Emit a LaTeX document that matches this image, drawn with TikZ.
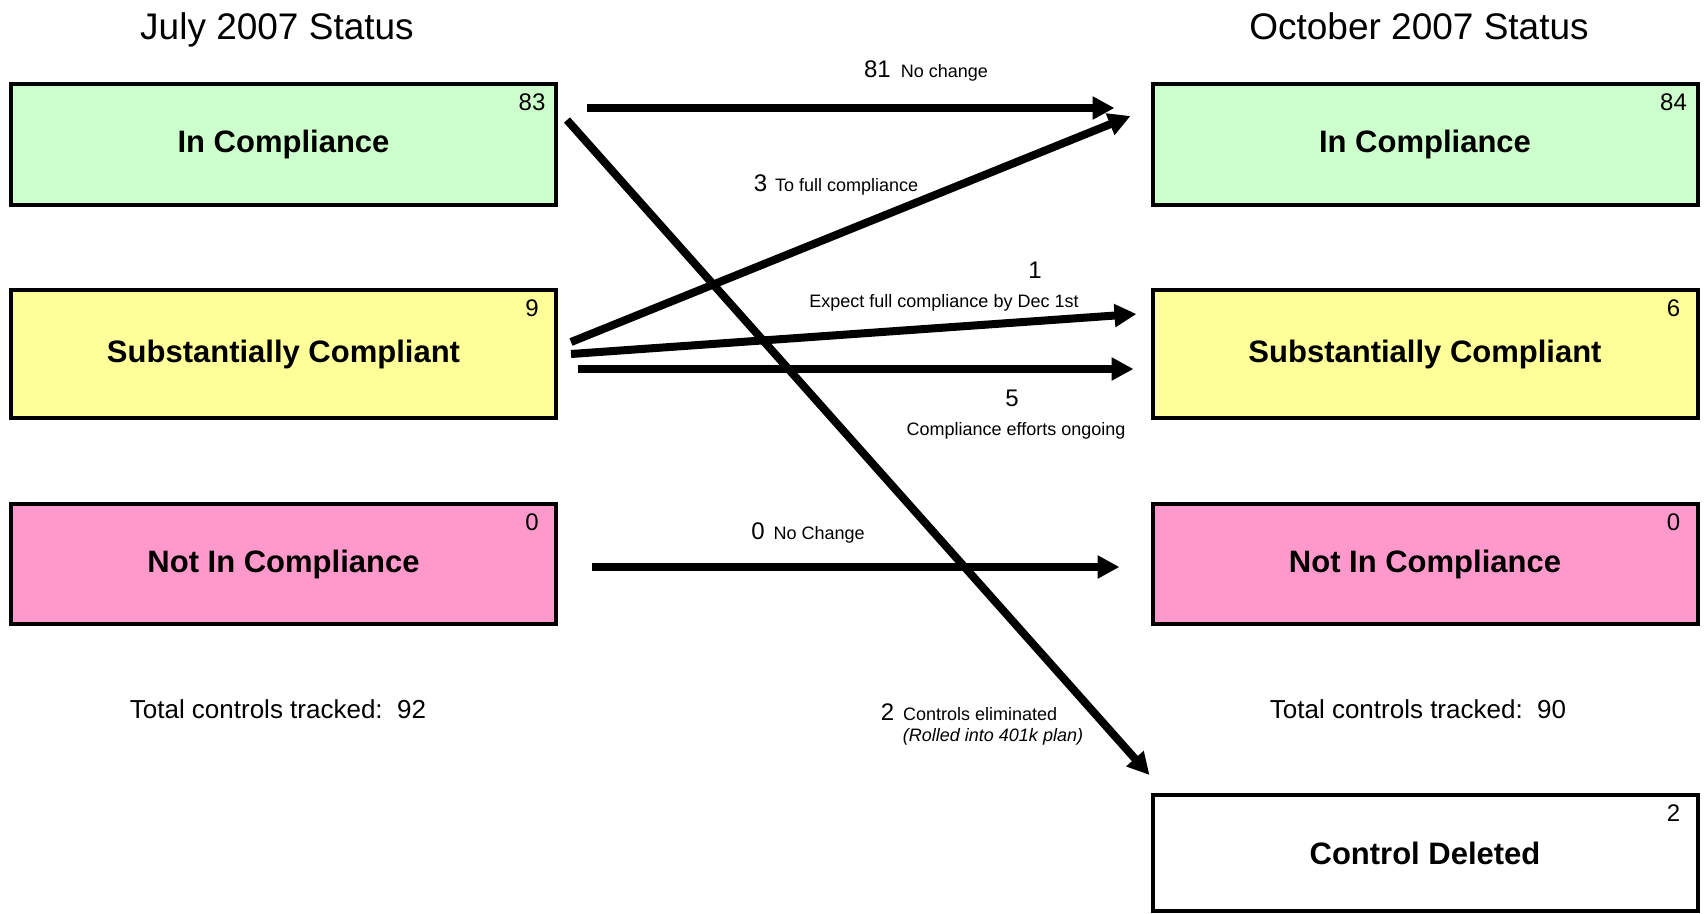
\documentclass[tikz,border=0pt]{standalone}
\usepackage{fontspec}
\setmainfont{Liberation Sans}
\usetikzlibrary{arrows.meta}

\definecolor{okgreen}{HTML}{CCFFCC}
\definecolor{subyellow}{HTML}{FFFF99}
\definecolor{notpink}{HTML}{FF99CC}

\newcommand{\titlesize}{\fontsize{37}{44}\selectfont}
\newcommand{\boxsize}{\fontsize{31}{37}\selectfont}
\newcommand{\totalsize}{\fontsize{26}{31}\selectfont}
\newcommand{\numsize}{\fontsize{24}{29}\selectfont}
\newcommand{\smallsize}{\fontsize{18}{22}\selectfont}

\begin{document}
\begin{tikzpicture}[x=1pt,y=-1pt,
    statebox/.style={draw,line width=4pt,minimum width=545pt,minimum height=121pt,
                     inner sep=0pt,font=\boxsize\bfseries},
    count/.style={anchor=base,inner sep=0pt,font=\numsize},
    note/.style={anchor=base,inner sep=0pt},
    flow/.style={line width=8pt,-{Triangle[length=22pt,width=22pt]}}]

    \useasboundingbox[fill=white] (0,0) rectangle (1704,913);

    \node[note,font=\titlesize] (julyTitle) at (277,39) {July 2007 Status};
    \node[note,font=\titlesize] (octTitle) at (1419,39) {October 2007 Status};

    \node[statebox,fill=okgreen] (julyIn) at (283.5,144.5) {In Compliance};
    \node[statebox,fill=subyellow,minimum height=128pt] (julySub) at (283.5,354) {Substantially Compliant};
    \node[statebox,fill=notpink,minimum height=120pt] (julyNot) at (283.5,564) {Not In Compliance};

    \node[statebox,fill=okgreen] (octIn) at (1425,144.5) {In Compliance};
    \node[statebox,fill=subyellow,minimum height=128pt] (octSub) at (1425,354) {Substantially Compliant};
    \node[statebox,fill=notpink,minimum height=120pt] (octNot) at (1425,564) {Not In Compliance};
    \node[statebox,fill=white,minimum height=116pt] (octDel) at (1425,853) {Control Deleted};

    \node[count] (nJulyIn) at ([shift={(-26,28)}]julyIn.north east) {83};
    \node[count] (nJulySub) at ([shift={(-26,28)}]julySub.north east) {9};
    \node[count] (nJulyNot) at ([shift={(-26,28)}]julyNot.north east) {0};
    \node[count] (nOctIn) at ([shift={(-26,28)}]octIn.north east) {84};
    \node[count] (nOctSub) at ([shift={(-26,28)}]octSub.north east) {6};
    \node[count] (nOctNot) at ([shift={(-26,28)}]octNot.north east) {0};
    \node[count] (nOctDel) at ([shift={(-26,28)}]octDel.north east) {2};

    \node[note,font=\totalsize] (julyTotal) at (278,718) {Total controls tracked:~~92};
    \node[note,font=\totalsize] (octTotal) at (1418,718) {Total controls tracked:~~90};

    \draw[flow] ([shift={(29,26)}]julyIn.north east) -- ([shift={(-36,26)}]octIn.north west);
    \draw[flow] ([shift={(9,38)}]julyIn.north east) -- ([shift={(-1,-18)}]octDel.north west);
    \draw[flow] ([shift={(13,54)}]julySub.north east) -- ([shift={(-20,34)}]octIn.north west);
    \draw[flow] ([shift={(13,66)}]julySub.north east) -- ([shift={(-14,26)}]octSub.north west);
    \draw[flow] ([shift={(20,81)}]julySub.north east) -- ([shift={(-17,81)}]octSub.north west);
    \draw[flow] ([shift={(34,65)}]julyNot.north east) -- ([shift={(-31,65)}]octNot.north west);

    \node[note] (lbl81) at (926,77) {{\numsize 81}\hspace{10pt}{\smallsize No change}};
    \node[note] (lbl3) at (836,191) {{\numsize 3}\hspace{8pt}{\smallsize To full compliance}};
    \node[note,font=\numsize] (lbl1) at (1035,278) {1};
    \node[note,font=\smallsize] (lbl1txt) at (944,307) {Expect full compliance by Dec 1st};
    \node[note,font=\numsize] (lbl5) at (1012,406) {5};
    \node[note,font=\smallsize] (lbl5txt) at (1016,435) {Compliance efforts ongoing};
    \node[note] (lbl0) at (808,539) {{\numsize 0}\hspace{9pt}{\smallsize No Change}};
    \node[note] (lbl2) at (969,720) {{\numsize 2}\hspace{9pt}{\smallsize Controls eliminated}};
    \node[note,font=\smallsize\itshape] (lbl2sub) at (993,741) {(Rolled into 401k plan)};

\end{tikzpicture}
\end{document}
